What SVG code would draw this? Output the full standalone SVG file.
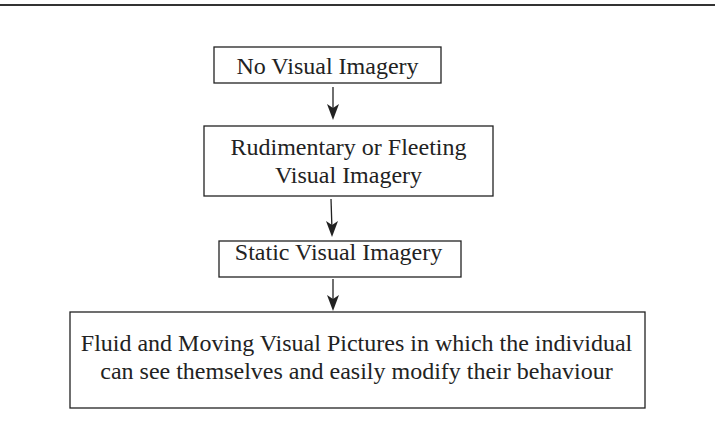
<svg xmlns="http://www.w3.org/2000/svg" width="715" height="441" viewBox="0 0 715 441">
<defs>
<style>
.box{fill:#fff;stroke:#222;stroke-width:1.3}
.t{font-family:"Liberation Serif","Times New Roman",serif;font-size:24px;fill:#222;text-anchor:middle}
.c{stroke:#222;stroke-width:1.3;fill:none}
.h{fill:#222}
</style>
</defs>
<rect width="715" height="441" fill="#fff"/>
<line x1="0" y1="5" x2="715" y2="5" stroke="#333" stroke-width="2"/>
<g id="connectors">
<path d="M333,87 L333,112" class="c"/>
<path class="h" d="M327,104 L333,108 L339,104 L333,120 Z"/>
<path d="M331,199 L332,230" class="c"/>
<path class="h" d="M326,221 L332,225 L338,221 L332,237 Z"/>
<path d="M333,279 L333,303" class="c"/>
<path class="h" d="M327,295 L333,299 L339,295 L333,311 Z"/>
</g>
<g id="n1">
<rect class="box" x="214" y="47" width="227" height="36"/>
<text class="t" x="327.5" y="74">No Visual Imagery</text>
</g>
<g id="n2">
<rect class="box" x="204" y="126" width="289" height="70"/>
<text class="t" x="348.5" y="155">Rudimentary or Fleeting</text>
<text class="t" x="348.5" y="183">Visual Imagery</text>
</g>
<g id="n3">
<rect class="box" x="219" y="241" width="242" height="36"/>
<text class="t" x="338.5" y="260">Static Visual Imagery</text>
</g>
<g id="n4">
<rect class="box" x="70" y="312" width="575" height="96"/>
<text class="t" x="356.5" y="351">Fluid and Moving Visual Pictures in which the individual</text>
<text class="t" x="356.5" y="379">can see themselves and easily modify their behaviour</text>
</g>
</svg>
